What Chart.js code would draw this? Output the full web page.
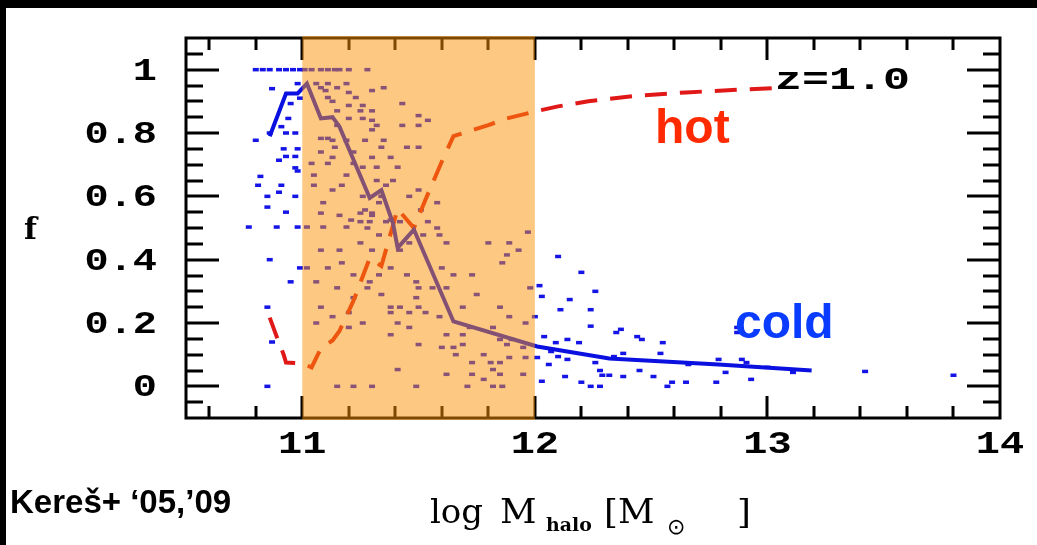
<!DOCTYPE html>
<html>
<head>
<meta charset="utf-8">
<script src="https://cdn.jsdelivr.net/npm/chart.js@4.4.1/dist/chart.umd.min.js"></script>
<style>
  html, body { margin: 0; padding: 0; background: #fff; overflow: hidden; }
  #wrap { position: relative; width: 1037px; height: 545px; }
  .band { position: absolute; background: #000; }
</style>
</head>
<body>
<div id="wrap">
  <canvas id="fracChart" width="1037" height="545"></canvas>
  <div class="band" style="left:0;top:0;width:1037px;height:8px"></div>
  <div class="band" style="left:0;top:0;width:6px;height:545px"></div>
</div>
<script>
// eixos
var xTicks = [11, 12, 13, 14];
var xTickLabels = ["11", "12", "13", "14"];
var yTicks = [0, 0.2, 0.4, 0.6, 0.8, 1];
var yTickLabels = ["0", "0.2", "0.4", "0.6", "0.8", "1"];
var shadeFrom = 11;
var shadeTo = 12;

// mediana "cold"
var coldMass = [10.86, 10.93, 10.98, 11.02, 11.08, 11.13, 11.16, 11.29, 11.34, 11.39, 11.41, 11.48, 11.65, 12.01, 12.32, 12.79, 13.19];
var coldFrac = [0.79, 0.925, 0.925, 0.956, 0.846, 0.85, 0.82, 0.595, 0.62, 0.515, 0.437, 0.495, 0.205, 0.126, 0.088, 0.069, 0.05];

// mediana "hot"
var hotMass = [10.86, 10.89, 10.92, 10.93, 11.0, 11.04, 11.08, 11.13, 11.16, 11.22, 11.29, 11.34, 11.41, 11.48, 11.53, 11.6, 11.65, 11.8, 11.88, 12.0, 12.1, 12.23, 12.44, 12.65, 12.88, 13.06];
var hotFrac = [0.217, 0.157, 0.1, 0.075, 0.072, 0.06, 0.12, 0.145, 0.175, 0.27, 0.405, 0.38, 0.56, 0.5, 0.59, 0.71, 0.79, 0.825, 0.846, 0.868, 0.884, 0.9, 0.918, 0.928, 0.937, 0.943];

// halos individuais (fração fria)
var haloMass = [
  10.80, 10.83, 10.86, 10.90, 10.93, 10.96, 10.99, 11.01, 11.04, 11.08, 11.11, 11.14, 11.16, 11.20, 11.28,
  10.87, 10.98, 10.99, 10.95, 10.94, 10.91, 10.86, 10.93, 10.97, 10.80, 10.92, 10.98, 10.93, 10.97, 10.90,
  10.97, 10.98, 10.82, 10.81, 10.91, 10.90, 10.85, 10.97, 10.85, 10.93, 10.77, 10.89, 10.98, 10.86, 10.99,
  10.95, 10.85, 10.87, 10.85,
  11.06, 11.11, 11.19, 11.08, 11.15, 11.35, 11.10, 11.30, 11.20, 11.11, 11.23, 11.13, 11.43, 11.20, 11.26,
  11.15, 11.25, 11.30, 11.50, 11.20, 11.26, 11.30, 11.54, 11.15, 11.32, 11.43, 11.50, 11.30, 11.08, 11.11,
  11.13, 11.19, 11.27, 11.35, 11.14, 11.34, 11.45, 11.50, 11.08, 11.22, 11.13, 11.30, 11.38, 11.04, 11.11,
  11.22, 11.26, 11.32, 11.41, 11.05, 11.19, 11.32, 11.39, 11.05, 11.17, 11.36, 11.13, 11.50, 11.26, 11.34,
  11.46, 11.09, 11.33, 11.58, 11.27, 11.51, 11.16, 11.30, 11.25, 11.29, 11.36, 11.42, 11.54, 11.02, 11.09,
  11.19,
  11.08, 11.25, 11.30, 11.21, 11.38, 11.28, 11.58, 11.33, 11.52, 11.59, 11.25, 11.46, 11.62, 11.80, 11.89,
  11.08, 11.16, 11.30, 11.42, 11.93, 11.88, 11.17, 11.86, 11.02, 11.11, 11.38, 11.60, 11.22, 11.33, 11.45,
  11.65, 11.73, 11.06, 11.29, 11.49, 11.15, 11.28, 11.50, 11.56, 11.62, 11.98, 11.34, 11.75, 11.22, 11.49,
  11.08, 11.38, 11.42, 11.50, 11.69, 11.85, 11.20, 11.38, 11.46, 11.53, 11.13, 11.59, 11.89, 11.06, 11.26,
  11.41, 11.96, 11.20, 11.46, 11.72, 11.82, 11.38, 11.62, 11.69, 11.85, 11.90, 11.50, 11.69, 11.88, 11.60,
  11.65, 11.95, 11.66, 11.78, 11.89, 11.96, 11.73, 11.81, 11.85, 11.41, 11.82, 11.62, 11.73, 11.85, 11.95,
  11.78, 11.15, 11.22, 11.30, 11.49, 11.71, 11.82, 11.86,
  11.97, 12.10, 12.20, 12.02, 12.26, 12.03, 12.15, 12.11, 12.24, 12.00, 12.24, 12.87, 12.37, 12.35, 12.87,
  12.04, 12.44, 12.14, 12.46, 12.09, 12.19, 12.55, 12.07, 12.38, 12.54, 12.10, 12.34, 12.01, 12.14, 12.79,
  12.89, 12.26, 12.91, 12.06, 12.66, 13.00, 12.28, 12.45, 13.42, 12.82, 13.11, 12.29, 12.32, 13.80, 12.13,
  12.38, 12.51, 12.93, 12.03, 12.20, 12.59, 12.65, 12.78, 12.24, 12.28, 12.57
];
var haloFrac = [
  1, 1, 1, 1, 1, 1, 1, 1, 1, 1, 1, 1, 1, 1, 1,
  0.94, 0.956, 0.91, 0.893, 0.846, 0.82, 0.80, 0.80, 0.80, 0.777, 0.75, 0.75, 0.726, 0.726, 0.714,
  0.69, 0.68, 0.663, 0.635, 0.635, 0.613, 0.60, 0.60, 0.566, 0.55, 0.503, 0.503, 0.503, 0.40, 0.374,
  0.33, 0.25, 0.14, 0.0,
  0.956, 0.956, 0.956, 0.943, 0.943, 0.943, 0.934, 0.934, 0.928, 0.912, 0.912, 0.90, 0.893, 0.887, 0.887,
  0.87, 0.87, 0.87, 0.855, 0.846, 0.846, 0.84, 0.84, 0.824, 0.824, 0.824, 0.824, 0.81, 0.783, 0.783,
  0.777, 0.777, 0.777, 0.777, 0.755, 0.755, 0.755, 0.755, 0.74, 0.74, 0.723, 0.723, 0.723, 0.704, 0.704,
  0.704, 0.692, 0.692, 0.692, 0.667, 0.667, 0.65, 0.65, 0.635, 0.635, 0.635, 0.62, 0.62, 0.60, 0.60,
  0.60, 0.58, 0.58, 0.58, 0.557, 0.557, 0.54, 0.54, 0.52, 0.52, 0.52, 0.52, 0.52, 0.503, 0.503,
  0.503,
  0.547, 0.547, 0.547, 0.525, 0.525, 0.50, 0.50, 0.478, 0.478, 0.478, 0.453, 0.453, 0.453, 0.453, 0.453,
  0.43, 0.43, 0.43, 0.43, 0.43, 0.415, 0.39, 0.39, 0.374, 0.374, 0.374, 0.374, 0.352, 0.352, 0.352,
  0.352, 0.352, 0.33, 0.33, 0.33, 0.311, 0.311, 0.311, 0.311, 0.311, 0.311, 0.29, 0.29, 0.28, 0.28,
  0.25, 0.25, 0.25, 0.25, 0.25, 0.25, 0.233, 0.233, 0.233, 0.233, 0.22, 0.22, 0.22, 0.20, 0.20,
  0.20, 0.20, 0.186, 0.186, 0.186, 0.186, 0.163, 0.163, 0.163, 0.148, 0.148, 0.132, 0.132, 0.132, 0.123,
  0.123, 0.123, 0.10, 0.10, 0.091, 0.091, 0.075, 0.075, 0.075, 0.053, 0.053, 0.038, 0.038, 0.038, 0.038,
  0.022, 0.0, 0.0, 0.0, 0.0, 0.0, 0.0, 0.0,
  0.487, 0.41, 0.36, 0.318, 0.30, 0.284, 0.274, 0.242, 0.242, 0.22, 0.19, 0.186, 0.18, 0.17, 0.17,
  0.157, 0.157, 0.148, 0.148, 0.138, 0.138, 0.138, 0.11, 0.104, 0.104, 0.094, 0.094, 0.091, 0.085, 0.085,
  0.085, 0.075, 0.075, 0.069, 0.069, 0.06, 0.05, 0.05, 0.047, 0.044, 0.044, 0.035, 0.035, 0.035, 0.031,
  0.031, 0.031, 0.022, 0.016, 0.013, 0.013, 0.013, 0.013, 0.0, 0.0, 0.0
];

function pares(xs, ys) {
  var out = [];
  for (var i = 0; i < xs.length; i++) out.push({ x: xs[i], y: ys[i] });
  return out;
}

function textoEsticado(ctx, str, x, y, font, color, stretch, align) {
  ctx.save();
  ctx.font = font;
  ctx.fillStyle = color;
  ctx.textAlign = "left";
  ctx.textBaseline = "alphabetic";
  var w = ctx.measureText(str).width * stretch;
  var left = align === "right" ? x - w : align === "center" ? x - w / 2 : x;
  ctx.translate(left, y);
  ctx.scale(stretch, 1);
  ctx.fillText(str, 0, 0);
  ctx.restore();
  return left + w;
}

var MONO = "bold 31px 'Liberation Mono', 'DejaVu Sans Mono', monospace";
var SERIF = "34px 'DejaVu Serif', 'Liberation Serif', serif";

// moldura, ticks internos e faixa laranja
var moldura = {
  id: "moldura",
  afterDatasetsDraw: function (chart) {
    var ctx = chart.ctx;
    var a = chart.chartArea;
    var sx = chart.scales.x;
    var sy = chart.scales.y;
    ctx.save();
    ctx.strokeStyle = "#000";
    ctx.lineWidth = 3;
    ctx.beginPath();
    for (var i = 53; i <= 69; i++) {
      var px = Math.round(sx.getPixelForValue(i / 5));
      var len = i % 5 === 0 ? 22 : 12;
      ctx.moveTo(px, a.bottom); ctx.lineTo(px, a.bottom - len);
      ctx.moveTo(px, a.top); ctx.lineTo(px, a.top + len);
    }
    for (var j = -1; j <= 21; j++) {
      var py = Math.round(sy.getPixelForValue(j / 20));
      var l = j % 4 === 0 ? 33 : 17;
      ctx.moveTo(a.left, py); ctx.lineTo(a.left + l, py);
      ctx.moveTo(a.right, py); ctx.lineTo(a.right - l, py);
    }
    ctx.stroke();
    ctx.strokeRect(a.left, a.top, a.right - a.left, a.bottom - a.top);

    var x1 = sx.getPixelForValue(shadeFrom);
    var x2 = sx.getPixelForValue(shadeTo);
    ctx.fillStyle = "rgba(252,145,5,0.5)";
    ctx.fillRect(x1, a.top - 2, x2 - x1, a.bottom - a.top + 4);
    ctx.restore();
  },
  afterDraw: function (chart) {
    var ctx = chart.ctx;
    var sx = chart.scales.x;
    var sy = chart.scales.y;

    for (var i = 0; i < yTicks.length; i++) {
      textoEsticado(ctx, yTickLabels[i], 157, sy.getPixelForValue(yTicks[i]) + 10, MONO, "#000", 1.3, "right");
    }
    for (var k = 0; k < xTicks.length; k++) {
      textoEsticado(ctx, xTickLabels[k], sx.getPixelForValue(xTicks[k]), 453, MONO, "#000", 1.3, "center");
    }

    textoEsticado(ctx, "z=1.0", 775, 89, MONO, "#000", 1.45, "left");
    textoEsticado(ctx, "f", 24, 239, "bold 30px 'DejaVu Serif', serif", "#000", 1.0, "left");

    textoEsticado(ctx, "hot", 655, 143, "bold 48px 'Liberation Sans', Arial, sans-serif", "#ff2a00", 1.0, "left");
    textoEsticado(ctx, "cold", 735, 338, "bold 48px 'Liberation Sans', Arial, sans-serif", "#0a3cff", 1.0, "left");

    // titulo do eixo x
    textoEsticado(ctx, "log", 430, 523, SERIF, "#000", 1.0, "left");
    textoEsticado(ctx, "M", 500, 523, SERIF, "#000", 1.05, "left");
    textoEsticado(ctx, "halo", 546, 531, "bold 18px 'DejaVu Serif', serif", "#000", 1.05, "left");
    textoEsticado(ctx, "[M", 604, 523, SERIF, "#000", 1.05, "left");
    textoEsticado(ctx, "\u2299", 667, 534, "22px 'DejaVu Sans', sans-serif", "#000", 1.0, "left");
    textoEsticado(ctx, "]", 737, 523, SERIF, "#000", 1.05, "left");

    textoEsticado(ctx, "Kere\u0161+ \u201805,\u201909", 10, 513, "bold 33px 'Liberation Sans Narrow', 'Liberation Sans', sans-serif", "#000", 1.0, "left");
  }
};

new Chart(document.getElementById("fracChart"), {
  type: "scatter",

  data: {
    datasets: [
      {
        type: "line",
        data: pares(coldMass, coldFrac),
        borderColor: "#0a10e0",
        borderWidth: 4,
        pointRadius: 0,
        tension: 0,
        fill: false,
        order: 0,
      },
      {
        type: "line",
        data: pares(hotMass, hotFrac),
        borderColor: "#e01818",
        borderWidth: 4,
        borderDash: [22, 13],
        pointRadius: 0,
        tension: 0,
        fill: false,
        order: 1,
      },
      {
        data: pares(haloMass, haloFrac),
        pointStyle: "line",
        pointRadius: 3,
        borderColor: "#1414e6",
        borderWidth: 3.5,
        order: 2,
      },
    ],
  },

  options: {
    responsive: false,
    animation: false,
    events: [],

    layout: {
      padding: { left: 186, top: 38, right: 37, bottom: 127 },
    },

    plugins: {
      legend: { display: false },
      tooltip: { enabled: false },
    },

    scales: {
      x: { type: "linear", min: 10.5, max: 14, display: false },
      y: { type: "linear", min: -0.1, max: 1.1, display: false },
    },
  },

  plugins: [moldura],
});
</script>
</body>
</html>
